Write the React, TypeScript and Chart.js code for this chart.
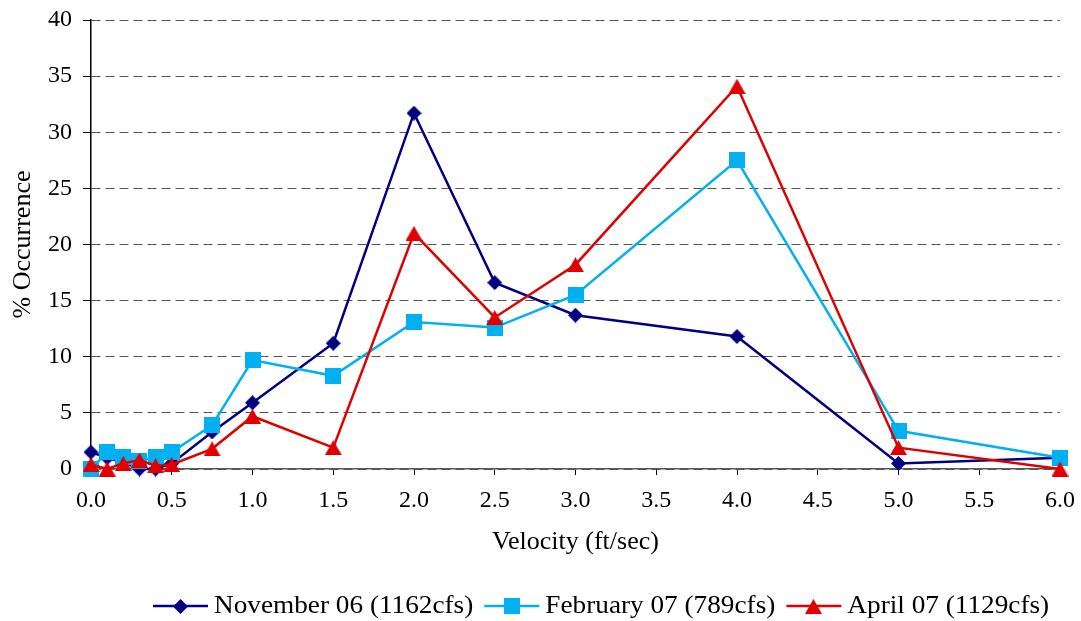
import { useEffect, useRef } from 'react';
import { Chart, registerables } from 'chart.js';

Chart.register(...registerables);

// Velocity bins (ft/sec) and % occurrence per survey
const velocity = [0, 0.1, 0.2, 0.3, 0.4, 0.5, 0.75, 1.0, 1.5, 2.0, 2.5, 3.0, 4.0, 5.0, 6.0];
const november06 = [1.5, 1.0, 0.6, 0, 0, 0.5, 3.3, 5.9, 11.2, 31.7, 16.6, 13.7, 11.8, 0.5, 1.0];
const february07 = [0, 1.5, 1.1, 0.7, 1.1, 1.5, 3.9, 9.7, 8.3, 13.1, 12.6, 15.5, 27.5, 3.4, 1.0];
const april07 = [0.4, 0, 0.5, 0.8, 0.3, 0.4, 1.8, 4.7, 1.9, 21.0, 13.5, 18.2, 34.1, 1.9, 0];

const seriesLabels = ['November 06 (1162cfs)', 'February 07 (789cfs)', 'April 07 (1129cfs)'];
const seriesColors = ['#000080', '#00B0F0', '#E00000'];

const FONT = '"Liberation Serif", "Times New Roman", serif';

function makeMarker(kind: 'diamond' | 'square' | 'triangle', color: string): HTMLCanvasElement {
  const c = document.createElement('canvas');
  const w = kind === 'diamond' ? 15 : kind === 'square' ? 16 : 17;
  const h = kind === 'diamond' ? 15 : kind === 'square' ? 16 : 15;
  c.width = w;
  c.height = h;
  const g = c.getContext('2d')!;
  g.fillStyle = color;
  g.beginPath();
  if (kind === 'diamond') {
    g.moveTo(w / 2, 0);
    g.lineTo(w, h / 2);
    g.lineTo(w / 2, h);
    g.lineTo(0, h / 2);
  } else if (kind === 'square') {
    g.rect(0, 0, w, h);
  } else {
    g.moveTo(w / 2, 0);
    g.lineTo(w, h);
    g.lineTo(0, h);
  }
  g.closePath();
  g.fill();
  return c;
}

export default function App() {
  const ref = useRef<HTMLCanvasElement>(null);

  useEffect(() => {
    const canvas = ref.current;
    if (!canvas) return;

    const markers = [
      makeMarker('diamond', seriesColors[0]),
      makeMarker('square', seriesColors[1]),
      makeMarker('triangle', seriesColors[2]),
    ];
    const values = [november06, february07, april07];

    // Legend along the bottom: a short line with the marker, then the label
    const bottomLegend = {
      id: 'bottomLegend',
      afterDraw(chart: Chart) {
        const ctx = chart.ctx;
        ctx.save();
        ctx.font = `25px ${FONT}`;
        ctx.textBaseline = 'middle';
        ctx.textAlign = 'left';
        const stretch = 1.09;
        const y = chart.height - 15;
        let x = 153;
        seriesLabels.forEach((label, i) => {
          ctx.strokeStyle = seriesColors[i];
          ctx.lineWidth = 2.5;
          ctx.beginPath();
          ctx.moveTo(x, y);
          ctx.lineTo(x + 55, y);
          ctx.stroke();
          const m = markers[i];
          ctx.drawImage(m, Math.round(x + 27.5 - m.width / 2), Math.round(y - m.height / 2));
          x += 61;
          ctx.save();
          ctx.translate(x, y);
          ctx.scale(stretch, 1);
          ctx.fillStyle = '#000';
          ctx.fillText(label, 0, 0);
          ctx.restore();
          x += ctx.measureText(label).width * stretch + 11;
        });
        ctx.restore();
      },
    };

    const chart = new Chart(canvas, {
      type: 'line',
      data: {
        datasets: values.map((vals, i) => ({
          label: seriesLabels[i],
          data: velocity.map((v, j) => ({ x: v, y: vals[j] })),
          borderColor: seriesColors[i],
          backgroundColor: seriesColors[i],
          borderWidth: 2.5,
          pointStyle: markers[i],
          pointRadius: 8,
          pointHoverRadius: 8,
          tension: 0,
          clip: false,
          order: 3 - i,
        })),
      },
      options: {
        animation: false,
        responsive: true,
        maintainAspectRatio: false,
        layout: { padding: { top: 20, right: 21, bottom: 57, left: 0 } },
        plugins: {
          legend: { display: false },
          tooltip: { enabled: false },
        },
        scales: {
          x: {
            type: 'linear',
            min: 0,
            max: 6,
            ticks: {
              stepSize: 0.5,
              color: '#000',
              font: { family: FONT, size: 24 },
              padding: 11,
              maxRotation: 0,
              callback: (v) => Number(v).toFixed(1),
            },
            grid: {
              drawOnChartArea: false,
              tickLength: 6,
              tickColor: '#000',
              tickWidth: 1,
            },
            border: { color: '#595959', width: 1.5 },
            title: {
              display: true,
              text: 'Velocity (ft/sec)',
              color: '#000',
              font: { family: FONT, size: 26 },
              padding: { top: 0, bottom: 6 },
            },
            afterFit: (scale) => {
              scale.height = 95;
              scale.paddingLeft = 0;
              scale.paddingRight = 0;
            },
          },
          y: {
            min: 0,
            max: 40,
            ticks: {
              stepSize: 5,
              color: '#000',
              font: { family: FONT, size: 24 },
              padding: 11,
            },
            grid: {
              color: '#555555',
              lineWidth: 1,
              tickLength: 8,
              tickColor: '#000',
              tickBorderDash: [],
            },
            border: { color: '#000', width: 1.5, dash: [9, 5] },
            title: {
              display: true,
              text: '% Occurrence',
              color: '#000',
              font: { family: FONT, size: 26 },
              padding: { top: 8, bottom: 0 },
            },
            afterFit: (scale) => {
              scale.width = 91;
              scale.paddingTop = 0;
              scale.paddingBottom = 0;
            },
          },
        },
      },
      plugins: [bottomLegend],
    });

    return () => chart.destroy();
  }, []);

  return (
    <div style={{ position: 'fixed', left: 0, top: 0, width: 1081, height: 621, background: '#fff' }}>
      <canvas ref={ref} />
    </div>
  );
}
